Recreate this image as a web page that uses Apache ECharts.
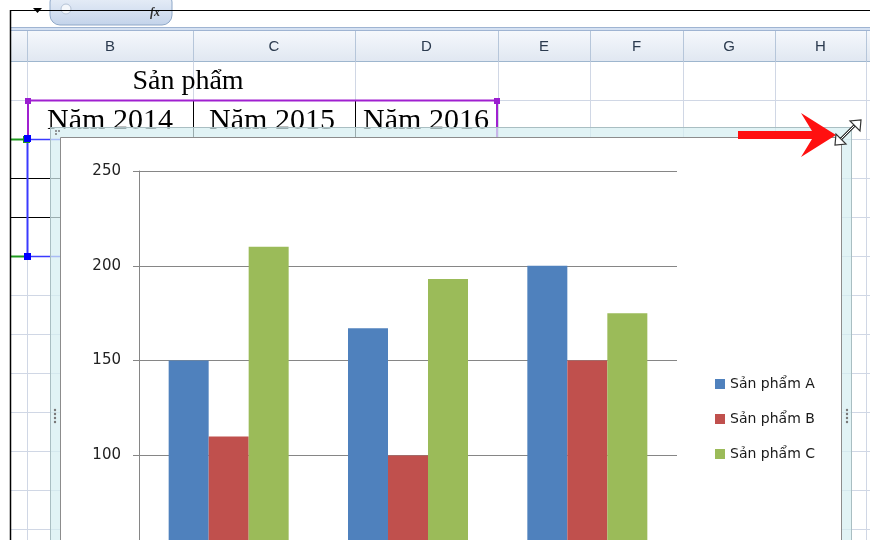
<!DOCTYPE html>
<html>
<head>
<meta charset="utf-8">
<script src="https://cdn.jsdelivr.net/npm/echarts@6/dist/echarts.min.js"></script>
<style>
html,body{margin:0;padding:0;background:#fff;}
#chart{width:870px;height:540px;}
</style>
</head>
<body>
<div id="chart"></div>
<script>
// ---- chart data ----
const categories = ['Năm 2014', 'Năm 2015', 'Năm 2016'];
const seriesNames = ['Sản phẩm A', 'Sản phẩm B', 'Sản phẩm C'];
const productA = [150, 167, 200];
const productB = [110, 100, 150];
const productC = [210, 193, 175];
const yMin = 0, yMax = 250, yStep = 50;

// ---- spreadsheet context texts ----
const columnLetters = ['B', 'C', 'D', 'E', 'F', 'G', 'H'];
const headerTitle = 'Sản phẩm';

const colors = ['#4F81BD', '#C0504D', '#9BBB59'];

const chart = echarts.init(document.getElementById('chart'), null, {renderer: 'canvas'});

// ---- background decoration (Excel sheet) ----
const G = [];
let zz = 0;
function add(el) { el.silent = true; el.z = -1; el.z2 = zz++; G.push(el); }
function ln(x1, y1, x2, y2, color, w) {
  add({type: 'line', shape: {x1, y1, x2, y2}, style: {stroke: color, lineWidth: w || 1}});
}
function rc(x, y, w, h, fill, stroke, r) {
  add({type: 'rect', shape: {x, y, width: w, height: h, r: r || 0}, style: {fill, stroke: stroke || null, lineWidth: 1}});
}
const colBounds = [27, 193, 355, 498, 590, 683, 775, 866];
const rowLines = [100, 139, 178, 217, 256, 295, 334, 373, 412, 451, 490, 529];
const gridCol = '#D0D7E5';

// formula bar
rc(0, 0, 870, 540, '#ffffff');
rc(50, -8, 122, 33, new echarts.graphic.LinearGradient(0, 0, 0, 1, [{offset: 0, color: '#EEF3FA'}, {offset: 1, color: '#C3D3EA'}]), '#8FA8C8', 10);
add({type: 'circle', shape: {cx: 66, cy: 9, r: 5}, style: {fill: '#F4F7FB', stroke: '#B5C3D6'}});
add({type: 'text', style: {text: 'fx', x: 155, y: 13, fill: '#333', font: 'italic bold 12px "Liberation Serif"', align: 'center', verticalAlign: 'middle'}});
add({type: 'polygon', shape: {points: [[33, 8], [42, 8], [37.5, 13]]}, style: {fill: '#000'}});
ln(10, 10.5, 870, 10.5, '#000', 1);
rc(10, 27, 860, 4, '#D5E1F2');
ln(10, 27.5, 870, 27.5, '#9FB4D2', 1);
ln(10, 30.5, 870, 30.5, '#9FB4D2', 1);
// column header
rc(10, 31, 860, 31, new echarts.graphic.LinearGradient(0, 0, 0, 1, [{offset: 0, color: '#F5F8FC'}, {offset: 1, color: '#E0E7F1'}]));
ln(10, 61.5, 870, 61.5, '#9EB6CE', 1);
colBounds.forEach(x => ln(x + 0.5, 31, x + 0.5, 62, '#B6C6DA', 1));
columnLetters.forEach((t, i) => {
  add({type: 'text', style: {text: t, x: (colBounds[i] + colBounds[i + 1]) / 2, y: 47, fill: '#2B3A4E', font: '15px "Liberation Sans"', align: 'center', verticalAlign: 'middle'}});
});
// grid lines
colBounds.forEach(x => ln(x + 0.5, 62, x + 0.5, 540, gridCol, 1));
rowLines.forEach(y => ln(10, y + 0.5, 870, y + 0.5, gridCol, 1));
// table borders
ln(10, 178.5, 60, 178.5, '#000', 1);
ln(10, 217.5, 60, 217.5, '#000', 1);
ln(193.5, 100, 193.5, 139, '#000', 1);
ln(355.5, 100, 355.5, 139, '#000', 1);
// sheet texts
add({type: 'text', style: {text: headerTitle, x: 188, y: 82, fill: '#000', font: '28px "Liberation Serif"', align: 'center', verticalAlign: 'middle'}});
const yearCenters = [110, 272, 426];
categories.forEach((t, i) => {
  add({type: 'text', style: {text: t, x: yearCenters[i], y: 121, fill: '#000', font: '30px "Liberation Serif"', align: 'center', verticalAlign: 'middle'}});
});
// selection ranges
ln(27, 100.5, 497, 100.5, '#A020D0', 2);
ln(28, 100, 28, 139, '#A020D0', 2);
ln(497, 100, 497, 139, '#A020D0', 2);
rc(25, 98, 6, 6, '#9A1ED0');
rc(494, 98, 6, 6, '#9A1ED0');
ln(10, 139.5, 27, 139.5, '#1E9A1E', 2);
ln(10, 256.5, 27, 256.5, '#1E9A1E', 2);
ln(27, 139.5, 60, 139.5, '#3A3AFF', 1.5);
ln(27, 256.5, 60, 256.5, '#3A3AFF', 1.5);
ln(27.5, 139, 27.5, 256, '#3A3AFF', 2);
rc(23, 136, 7, 7, '#1E9A1E');
rc(24, 135, 7, 7, '#0000FF');
rc(24, 253, 7, 7, '#0000FF');
ln(10.5, 10, 10.5, 540, '#000', 1.5);
// chart frame
rc(50.5, 127.5, 801, 440, 'rgba(214,238,241,0.72)', '#A9BEC2');
rc(60.5, 137.5, 781, 440, '#ffffff', '#8C8C8C');
[[55, 410], [55, 414], [55, 418], [55, 422], [847, 410], [847, 414], [847, 418], [847, 422]].forEach(p => {
  add({type: 'circle', shape: {cx: p[0], cy: p[1], r: 1.2}, style: {fill: '#777'}});
});
[[56, 131], [59, 131], [56, 134]].forEach(p => {
  add({type: 'circle', shape: {cx: p[0], cy: p[1], r: 1}, style: {fill: '#777'}});
});
// red arrow
add({type: 'polygon', shape: {points: [[738, 131], [812, 131], [801, 113], [836, 135], [801, 157], [812, 139], [738, 139]]}, style: {fill: '#FF1010'}});
// resize cursor
add({type: 'line', shape: {x1: 839, y1: 141, x2: 856, y2: 124}, style: {stroke: '#333', lineWidth: 3}});
add({type: 'line', shape: {x1: 839, y1: 141, x2: 856, y2: 124}, style: {stroke: '#fff', lineWidth: 1}});
add({type: 'polygon', shape: {points: [[835, 145], [836, 134], [846, 144]]}, style: {fill: '#fff', stroke: '#333', lineWidth: 1.2}});
add({type: 'polygon', shape: {points: [[861, 120], [860, 131], [850, 121]]}, style: {fill: '#fff', stroke: '#333', lineWidth: 1.2}});

const barSeries = [productA, productB, productC].map((d, i) => ({
  name: seriesNames[i],
  type: 'bar',
  data: d,
  barWidth: 40,
  barGap: '0%',
  itemStyle: {color: colors[i], borderWidth: 0},
  emphasis: {disabled: true}
}));

chart.setOption({
  animation: false,
  backgroundColor: 'transparent',
  graphic: {elements: G},
  grid: {left: 139, right: 193, top: 171, bottom: -105, containLabel: false, outerBoundsMode: 'none'},
  legend: {
    orient: 'vertical',
    left: 710,
    top: 372,
    itemWidth: 10,
    itemHeight: 10,
    itemGap: 21,
    icon: 'rect',
    data: seriesNames,
    textStyle: {fontFamily: 'DejaVu Sans', fontSize: 14, color: '#1a1a1a'},
    itemStyle: {borderWidth: 0}
  },
  xAxis: {
    type: 'category',
    data: categories,
    axisLine: {show: true, lineStyle: {color: '#868686'}},
    axisTick: {show: false},
    axisLabel: {fontFamily: 'DejaVu Sans', fontSize: 15, color: '#222'},
    splitLine: {show: false}
  },
  yAxis: {
    type: 'value',
    min: yMin,
    max: yMax,
    interval: yStep,
    axisLine: {show: true, lineStyle: {color: '#868686', width: 1}},
    axisTick: {show: true, inside: false, length: 6, lineStyle: {color: '#868686'}},
    axisLabel: {margin: 18, fontFamily: 'DejaVu Sans', fontSize: 15, color: '#222'},
    splitLine: {show: true, lineStyle: {color: '#868686', width: 1}}
  },
  series: barSeries
});
</script>
</body>
</html>
